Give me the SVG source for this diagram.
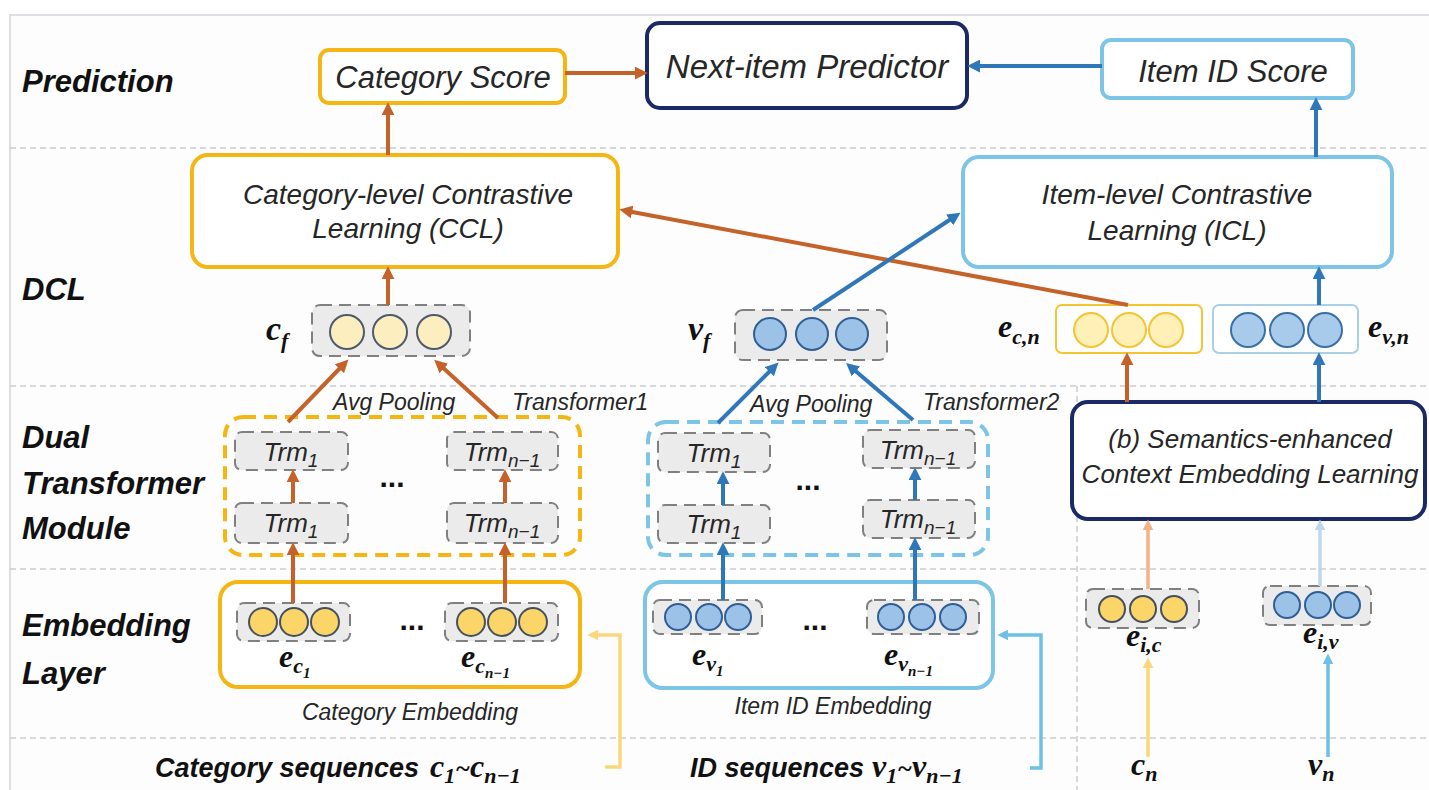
<svg xmlns="http://www.w3.org/2000/svg" width="1429" height="790" viewBox="0 0 1429 790">
<style>
.row{font-family:"Liberation Sans",Arial,sans-serif;font-weight:bold;font-style:italic;font-size:31px;fill:#111}
.bt{font-family:"Liberation Sans",Arial,sans-serif;font-style:italic;fill:#262626}
.m{font-family:"Liberation Serif","Times New Roman",serif;font-weight:bold;font-style:italic;fill:#111}
.sep{stroke:#c9ccd1;stroke-width:1.5;stroke-dasharray:6 4;fill:none}
.yb{fill:#fff;stroke:#f5b614;stroke-width:4}
.bb{fill:#fff;stroke:#7cc5e6;stroke-width:4}
.nb{fill:#fff;stroke:#1b2a66;stroke-width:4}
.gd{fill:#ebebeb;stroke:#808080;stroke-width:2;stroke-dasharray:12 7}
.yd{fill:none;stroke:#f5b614;stroke-width:4;stroke-dasharray:13 8}
.bd{fill:none;stroke:#7cc5e6;stroke-width:4;stroke-dasharray:13 8}
.cp{fill:#fdeebf;stroke:#4d5a6b;stroke-width:2}
.cy{fill:#fbd567;stroke:#45505e;stroke-width:2}
.cb{fill:#9cc2e8;stroke:#2f5f96;stroke-width:2}
.ao{stroke:#c5622a;stroke-width:4;fill:none;marker-end:url(#mo)}
.ab{stroke:#2f77b8;stroke-width:4;fill:none;marker-end:url(#mb)}
.dots{font-family:"Liberation Sans",Arial,sans-serif;font-weight:bold;font-size:30px;fill:#111}
</style>
<defs>
<marker id="mo" viewBox="0 0 10 10" refX="4" refY="5" markerWidth="13" markerHeight="13" markerUnits="userSpaceOnUse" orient="auto"><path d="M0,0 L10,5 L0,10 z" fill="#c5622a"/></marker>
<marker id="mb" viewBox="0 0 10 10" refX="4" refY="5" markerWidth="13" markerHeight="13" markerUnits="userSpaceOnUse" orient="auto"><path d="M0,0 L10,5 L0,10 z" fill="#2f77b8"/></marker>
<marker id="my" viewBox="0 0 10 10" refX="4" refY="5" markerWidth="11" markerHeight="11" markerUnits="userSpaceOnUse" orient="auto"><path d="M0,0 L10,5 L0,10 z" fill="#fcd77a"/></marker>
<marker id="mlb" viewBox="0 0 10 10" refX="4" refY="5" markerWidth="11" markerHeight="11" markerUnits="userSpaceOnUse" orient="auto"><path d="M0,0 L10,5 L0,10 z" fill="#6ec1e4"/></marker>
<marker id="mlo" viewBox="0 0 10 10" refX="4" refY="5" markerWidth="11" markerHeight="11" markerUnits="userSpaceOnUse" orient="auto"><path d="M0,0 L10,5 L0,10 z" fill="#f4b183"/></marker>
<marker id="mpb" viewBox="0 0 10 10" refX="4" refY="5" markerWidth="11" markerHeight="11" markerUnits="userSpaceOnUse" orient="auto"><path d="M0,0 L10,5 L0,10 z" fill="#bdd7ee"/></marker>
</defs>

<rect x="0" y="0" width="1429" height="790" fill="#fff"/>
<rect x="10" y="15" width="1430" height="790" fill="#fdfdfe" stroke="#dde1e6" stroke-width="2"/>

<g id="separators">
<line class="sep" x1="10" y1="148" x2="1429" y2="148"/>
<line class="sep" x1="10" y1="386" x2="1429" y2="386"/>
<line class="sep" x1="10" y1="569" x2="1429" y2="569"/>
<line class="sep" x1="10" y1="738" x2="1429" y2="738"/>
<line class="sep" x1="1077" y1="386" x2="1077" y2="790"/>
</g>

<g id="row-labels">
<text class="row" x="22" y="92">Prediction</text>
<text class="row" x="22" y="300">DCL</text>
<text class="row" x="22" y="448">Dual</text>
<text class="row" x="22" y="494">Transformer</text>
<text class="row" x="22" y="539">Module</text>
<text class="row" x="22" y="636">Embedding</text>
<text class="row" x="22" y="684">Layer</text>
</g>

<g id="category-score">
<rect class="yb" x="320" y="50" width="245" height="53" rx="9"/>
<text class="bt" x="443" y="88" font-size="31" text-anchor="middle">Category Score</text>
</g>
<g id="next-item-predictor">
<rect class="nb" x="647" y="23" width="320" height="85" rx="13"/>
<text class="bt" x="807" y="78" font-size="33" text-anchor="middle">Next-item Predictor</text>
</g>
<g id="item-id-score">
<rect class="bb" x="1102" y="40" width="251" height="58" rx="9"/>
<text class="bt" x="1233" y="82" font-size="31" text-anchor="middle">Item ID Score</text>
</g>

<g id="ccl">
<rect class="yb" x="192" y="155" width="426" height="112" rx="16"/>
<text class="bt" x="408" y="204" font-size="28" text-anchor="middle">Category-level Contrastive</text>
<text class="bt" x="408" y="238" font-size="28" text-anchor="middle">Learning (CCL)</text>
</g>
<g id="icl">
<rect class="bb" x="963" y="157" width="429" height="110" rx="16"/>
<text class="bt" x="1177" y="204" font-size="28" text-anchor="middle">Item-level Contrastive</text>
<text class="bt" x="1177" y="240" font-size="28" text-anchor="middle">Learning (ICL)</text>
</g>

<g id="cf">
<rect class="gd" x="312" y="305" width="158" height="51" rx="8"/>
<circle class="cp" cx="347" cy="332" r="17"/>
<circle class="cp" cx="390" cy="332" r="17"/>
<circle class="cp" cx="434" cy="332" r="17"/>
<text class="m" x="266" y="340" font-size="34">c<tspan dy="8" font-size="22">f</tspan></text>
</g>
<g id="vf">
<rect class="gd" x="735" y="310" width="152" height="50" rx="8"/>
<circle class="cb" cx="770" cy="334" r="16"/>
<circle class="cb" cx="812" cy="334" r="16"/>
<circle class="cb" cx="852" cy="334" r="16"/>
<text class="m" x="688" y="340" font-size="34">v<tspan dy="8" font-size="22">f</tspan></text>
</g>
<g id="ecn">
<rect x="1056" y="305" width="146" height="48" rx="6" fill="#fff" stroke="#f5c431" stroke-width="2"/>
<circle cx="1091" cy="330" r="17" fill="#fff0b8" stroke="#f5c431" stroke-width="2"/>
<circle cx="1129" cy="330" r="17" fill="#fff0b8" stroke="#f5c431" stroke-width="2"/>
<circle cx="1166" cy="330" r="17" fill="#fff0b8" stroke="#f5c431" stroke-width="2"/>
<text class="m" x="998" y="337" font-size="32">e<tspan dy="7" font-size="22">c,n</tspan></text>
</g>
<g id="evn">
<rect x="1213" y="305" width="145" height="48" rx="6" fill="#fff" stroke="#a9cfe9" stroke-width="2"/>
<circle cx="1248" cy="330" r="17" fill="#a8cbeb" stroke="#3a6fa5" stroke-width="2"/>
<circle cx="1287" cy="330" r="17" fill="#a8cbeb" stroke="#3a6fa5" stroke-width="2"/>
<circle cx="1325" cy="330" r="17" fill="#a8cbeb" stroke="#3a6fa5" stroke-width="2"/>
<text class="m" x="1368" y="337" font-size="32">e<tspan dy="7" font-size="22">v,n</tspan></text>
</g>

<g id="transformer1">
<rect class="yd" x="225" y="417" width="355" height="138" rx="18"/>
<rect class="gd" x="235" y="432" width="113" height="38" rx="7"/>
<rect class="gd" x="235" y="503" width="113" height="40" rx="7"/>
<rect class="gd" x="447" y="432" width="111" height="38" rx="7"/>
<rect class="gd" x="447" y="503" width="111" height="40" rx="7"/>
<text class="bt" x="291" y="461" font-size="26" text-anchor="middle">Trm<tspan dy="6" font-size="19">1</tspan></text>
<text class="bt" x="291" y="532" font-size="26" text-anchor="middle">Trm<tspan dy="6" font-size="19">1</tspan></text>
<text class="bt" x="502" y="461" font-size="26" text-anchor="middle">Trm<tspan dy="6" font-size="19">n−1</tspan></text>
<text class="bt" x="502" y="532" font-size="26" text-anchor="middle">Trm<tspan dy="6" font-size="19">n−1</tspan></text>
<text class="dots" x="392" y="487" text-anchor="middle">...</text>
<text class="bt" x="333" y="410" font-size="23">Avg Pooling</text>
<text class="bt" x="512" y="410" font-size="23">Transformer1</text>
</g>

<g id="transformer2">
<rect class="bd" x="648" y="422" width="340" height="133" rx="18"/>
<rect class="gd" x="658" y="433" width="112" height="39" rx="7"/>
<rect class="gd" x="658" y="505" width="112" height="38" rx="7"/>
<rect class="gd" x="863" y="430" width="112" height="38" rx="7"/>
<rect class="gd" x="863" y="500" width="112" height="38" rx="7"/>
<text class="bt" x="714" y="462" font-size="26" text-anchor="middle">Trm<tspan dy="6" font-size="19">1</tspan></text>
<text class="bt" x="714" y="533" font-size="26" text-anchor="middle">Trm<tspan dy="6" font-size="19">1</tspan></text>
<text class="bt" x="918" y="459" font-size="26" text-anchor="middle">Trm<tspan dy="6" font-size="19">n−1</tspan></text>
<text class="bt" x="918" y="528" font-size="26" text-anchor="middle">Trm<tspan dy="6" font-size="19">n−1</tspan></text>
<text class="dots" x="808" y="490" text-anchor="middle">...</text>
<text class="bt" x="750" y="412" font-size="23">Avg Pooling</text>
<text class="bt" x="923" y="410" font-size="23">Transformer2</text>
</g>

<g id="semantics">
<rect class="nb" x="1072" y="402" width="353" height="117" rx="16"/>
<text class="bt" x="1250" y="448" font-size="26" text-anchor="middle">(b) Semantics-enhanced</text>
<text class="bt" x="1250" y="483" font-size="26" text-anchor="middle">Context Embedding Learning</text>
</g>

<g id="category-embedding">
<rect class="yb" x="220" y="582" width="360" height="105" rx="18"/>
<rect class="gd" x="237" y="603" width="113" height="38" rx="7"/>
<circle class="cy" cx="263" cy="622" r="14"/>
<circle class="cy" cx="294" cy="622" r="14"/>
<circle class="cy" cx="325" cy="622" r="14"/>
<rect class="gd" x="445" y="603" width="113" height="38" rx="7"/>
<circle class="cy" cx="471" cy="622" r="14"/>
<circle class="cy" cx="502" cy="622" r="14"/>
<circle class="cy" cx="533" cy="622" r="14"/>
<text class="dots" x="412" y="630" text-anchor="middle">...</text>
<text class="m" x="279" y="667" font-size="32">e<tspan dy="6" font-size="22">c</tspan><tspan dy="5" font-size="15">1</tspan></text>
<text class="m" x="461" y="667" font-size="32">e<tspan dy="6" font-size="22">c</tspan><tspan dy="5" font-size="15">n−1</tspan></text>
<text class="bt" x="410" y="720" font-size="23" text-anchor="middle">Category Embedding</text>
</g>

<g id="item-id-embedding">
<rect class="bb" x="645" y="582" width="348" height="106" rx="18"/>
<rect class="gd" x="653" y="600" width="109" height="34" rx="7"/>
<circle class="cb" cx="678" cy="617" r="13"/>
<circle class="cb" cx="709" cy="617" r="13"/>
<circle class="cb" cx="738" cy="617" r="13"/>
<rect class="gd" x="867" y="600" width="112" height="34" rx="7"/>
<circle class="cb" cx="891" cy="617" r="13"/>
<circle class="cb" cx="922" cy="617" r="13"/>
<circle class="cb" cx="953" cy="617" r="13"/>
<text class="dots" x="815" y="630" text-anchor="middle">...</text>
<text class="m" x="692" y="665" font-size="32">e<tspan dy="6" font-size="22">v</tspan><tspan dy="5" font-size="15">1</tspan></text>
<text class="m" x="884" y="665" font-size="32">e<tspan dy="6" font-size="22">v</tspan><tspan dy="5" font-size="15">n−1</tspan></text>
<text class="bt" x="833" y="714" font-size="23" text-anchor="middle">Item ID Embedding</text>
</g>

<g id="eic">
<rect class="gd" x="1086" y="589" width="113" height="39" rx="7"/>
<circle class="cy" cx="1112" cy="609" r="13"/>
<circle class="cy" cx="1143" cy="609" r="13"/>
<circle class="cy" cx="1174" cy="609" r="13"/>
<text class="m" x="1126" y="646" font-size="32">e<tspan dy="6" font-size="22">i,c</tspan></text>
</g>
<g id="eiv">
<rect class="gd" x="1263" y="586" width="108" height="39" rx="7"/>
<circle class="cb" cx="1287" cy="605" r="13"/>
<circle class="cb" cx="1318" cy="605" r="13"/>
<circle class="cb" cx="1347" cy="605" r="13"/>
<text class="m" x="1303" y="643" font-size="32">e<tspan dy="6" font-size="22">i,v</tspan></text>
</g>

<g id="inputs">
<text class="row" x="155" y="777" style="font-size:27px">Category sequences</text>
<text class="m" x="430" y="777" font-size="32">c<tspan dy="6" font-size="22">1</tspan><tspan dy="-6" font-size="26">~</tspan>c<tspan dy="6" font-size="22">n−1</tspan></text>
<text class="row" x="690" y="777" style="font-size:27px">ID sequences</text>
<text class="m" x="872" y="777" font-size="32">v<tspan dy="6" font-size="22">1</tspan><tspan dy="-6" font-size="26">~</tspan>v<tspan dy="6" font-size="22">n−1</tspan></text>
<text class="m" x="1131" y="775" font-size="32">c<tspan dy="6" font-size="22">n</tspan></text>
<text class="m" x="1308" y="775" font-size="32">v<tspan dy="6" font-size="22">n</tspan></text>
</g>

<g id="connectors">
<line class="ao" x1="565" y1="73" x2="640" y2="73"/>
<line class="ab" x1="1102" y1="66" x2="975" y2="66"/>
<line class="ao" x1="388" y1="155" x2="388" y2="110"/>
<line class="ab" x1="1316" y1="157" x2="1316" y2="105"/>
<line class="ao" x1="388" y1="305" x2="388" y2="274"/>
<line class="ab" x1="1319" y1="305" x2="1319" y2="274"/>
<line class="ao" x1="1128" y1="305" x2="627" y2="211"/>
<line class="ab" x1="813" y1="310" x2="954" y2="217"/>
<line class="ao" x1="288" y1="422" x2="343" y2="365"/>
<line class="ao" x1="498" y1="418" x2="440" y2="365"/>
<line class="ab" x1="718" y1="423" x2="773" y2="368"/>
<line class="ab" x1="913" y1="420" x2="852" y2="368"/>
<line class="ao" x1="293" y1="503" x2="293" y2="477"/>
<line class="ao" x1="505" y1="503" x2="505" y2="477"/>
<line class="ab" x1="723" y1="505" x2="723" y2="479"/>
<line class="ab" x1="915" y1="500" x2="915" y2="475"/>
<line class="ao" x1="293" y1="603" x2="293" y2="550"/>
<line class="ao" x1="505" y1="603" x2="505" y2="550"/>
<line class="ab" x1="723" y1="600" x2="723" y2="550"/>
<line class="ab" x1="915" y1="600" x2="915" y2="545"/>
<line class="ao" x1="1127" y1="402" x2="1127" y2="360"/>
<line class="ab" x1="1319" y1="402" x2="1319" y2="360"/>
<line x1="1148" y1="589" x2="1148" y2="526" stroke="#f4b183" stroke-width="3.5" marker-end="url(#mlo)"/>
<line x1="1320" y1="586" x2="1320" y2="526" stroke="#bdd7ee" stroke-width="3.5" marker-end="url(#mpb)"/>
<line x1="1148" y1="757" x2="1148" y2="664" stroke="#fcd77a" stroke-width="3.5" marker-end="url(#my)"/>
<line x1="1328" y1="757" x2="1328" y2="660" stroke="#6ec1e4" stroke-width="3.5" marker-end="url(#mlb)"/>
<path d="M605,767 H620 V635 H594" fill="none" stroke="#fcd77a" stroke-width="3.5" marker-end="url(#my)"/>
<path d="M1030,768 H1041 V635 H1004" fill="none" stroke="#6ec1e4" stroke-width="3.5" marker-end="url(#mlb)"/>
</g>
</svg>
